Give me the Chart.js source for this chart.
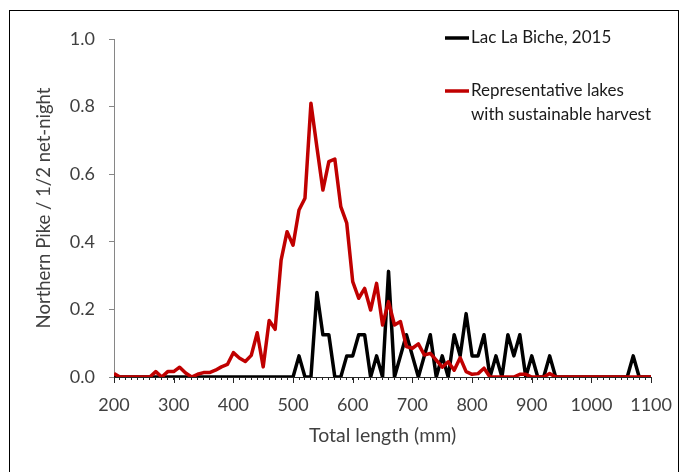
<!DOCTYPE html>
<html>
<head>
<meta charset="utf-8">
<script src="https://cdn.jsdelivr.net/npm/chart.js@4.4.1/dist/chart.umd.min.js"></script>
<style>
  html, body { margin: 0; padding: 0; background: #fff; }
  #caixa { position: relative; width: 686px; height: 472px; }
</style>
</head>
<body>
<div id="caixa"><canvas id="piqueGrafico"></canvas></div>
<script>
// comprimento total (mm), classes de 10 mm
const comprimentos = [200, 210, 220, 230, 240, 250, 260, 270, 280, 290,
  300, 310, 320, 330, 340, 350, 360, 370, 380, 390,
  400, 410, 420, 430, 440, 450, 460, 470, 480, 490,
  500, 510, 520, 530, 540, 550, 560, 570, 580, 590,
  600, 610, 620, 630, 640, 650, 660, 670, 680, 690,
  700, 710, 720, 730, 740, 750, 760, 770, 780, 790,
  800, 810, 820, 830, 840, 850, 860, 870, 880, 890,
  900, 910, 920, 930, 940, 950, 960, 970, 980, 990,
  1000, 1010, 1020, 1030, 1040, 1050, 1060, 1070, 1080, 1090,
  1100];

const lacLaBiche = [0, 0, 0, 0, 0, 0, 0, 0, 0, 0,
  0, 0, 0, 0, 0, 0, 0, 0, 0, 0,
  0, 0, 0, 0, 0, 0, 0, 0, 0, 0,
  0, 0.0625, 0, 0, 0.25, 0.125, 0.125, 0, 0, 0.0625,
  0.0625, 0.125, 0.125, 0, 0.0625, 0, 0.3125, 0, 0.0625, 0.125,
  0.0625, 0, 0.0625, 0.125, 0, 0.0625, 0, 0.125, 0.0625, 0.1875,
  0.0625, 0.0625, 0.125, 0, 0.0625, 0, 0.125, 0.0625, 0.125, 0,
  0.0625, 0, 0, 0.0625, 0, 0, 0, 0, 0, 0,
  0, 0, 0, 0, 0, 0, 0, 0.0625, 0, 0,
  0];

const lagosSustentaveis = [0.01, 0, 0, 0, 0, 0, 0, 0.016, 0, 0.016,
  0.016, 0.029, 0.012, 0, 0.008, 0.013, 0.013, 0.02, 0.03, 0.037,
  0.072, 0.056, 0.046, 0.064, 0.131, 0.03, 0.167, 0.141, 0.346, 0.43,
  0.39, 0.494, 0.529, 0.81, 0.68, 0.553, 0.637, 0.645, 0.504, 0.455,
  0.282, 0.233, 0.262, 0.198, 0.277, 0.154, 0.223, 0.154, 0.164, 0.09,
  0.085, 0.098, 0.065, 0.07, 0.05, 0.029, 0.045, 0.02, 0.057, 0.016,
  0.008, 0.01, 0.026, 0, 0, 0, 0, 0, 0.008, 0.008,
  0, 0, 0, 0.01, 0, 0, 0, 0, 0, 0,
  0, 0, 0, 0, 0, 0, 0, 0, 0, 0,
  0];

const marcasX = [200, 300, 400, 500, 600, 700, 800, 900, 1000, 1100];
const marcasY = [0, 0.2, 0.4, 0.6, 0.8, 1.0];

const FONTE = 'Lato, "Open Sans", sans-serif';
const CINZA_TEXTO = '#404040';

function pontos(valores) {
  return comprimentos.map((c, i) => ({ x: c, y: valores[i] }));
}

// moldura + legenda desenhadas à mão (legenda tem texto em duas linhas)
const molduraELegenda = {
  id: 'molduraELegenda',
  beforeDraw(chart) {
    const ctx = chart.ctx;
    ctx.save();
    ctx.fillStyle = '#fff';
    ctx.fillRect(0, 0, chart.width, chart.height);
    ctx.strokeStyle = '#000';
    ctx.lineWidth = 1;
    ctx.strokeRect(9.5, 10.5, 669, 480);
    ctx.restore();
  },
  afterDatasetsDraw(chart) {
    const ctx = chart.ctx;
    const xs = chart.scales.x;
    // marcas maiores a cada 100 mm
    ctx.save();
    ctx.strokeStyle = '#262626';
    ctx.lineWidth = 1;
    marcasX.forEach(v => {
      const px = Math.round(xs.getPixelForValue(v)) + 0.5;
      ctx.beginPath();
      ctx.moveTo(px, xs.top);
      ctx.lineTo(px, xs.top + 6);
      ctx.stroke();
    });
    ctx.restore();
  },
  afterDraw(chart) {
    const ctx = chart.ctx;
    const itens = [
      { cor: '#000000', linhas: ['Lac La Biche, 2015'], y: 38 },
      { cor: '#c00000', linhas: ['Representative lakes', 'with sustainable harvest'], y: 91 }
    ];
    ctx.save();
    ctx.font = '17px ' + FONTE;
    ctx.textBaseline = 'middle';
    ctx.textAlign = 'left';
    itens.forEach(it => {
      ctx.strokeStyle = it.cor;
      ctx.lineWidth = 3.5;
      ctx.beginPath();
      ctx.moveTo(445, it.y);
      ctx.lineTo(469, it.y);
      ctx.stroke();
      ctx.fillStyle = '#1a1a1a';
      it.linhas.forEach((t, k) => ctx.fillText(t, 471, it.y + k * 24));
    });
    ctx.restore();
  }
};

const canvas = document.getElementById('piqueGrafico');
new Chart(canvas, {
  type: 'line',
  data: {
    datasets: [
      {
        label: 'Lac La Biche, 2015',
        data: pontos(lacLaBiche),
        borderColor: '#000000',
        borderWidth: 3.5,
        pointRadius: 0,
        tension: 0,
        borderJoinStyle: 'round',
        order: 1
      },
      {
        label: 'Representative lakes with sustainable harvest',
        data: pontos(lagosSustentaveis),
        borderColor: '#c00000',
        borderWidth: 3.5,
        pointRadius: 0,
        tension: 0,
        borderJoinStyle: 'round',
        order: 0
      }
    ]
  },
  options: {
    responsive: true,
    maintainAspectRatio: false,
    animation: false,
    layout: { padding: { top: 39, right: 34, left: 0, bottom: 0 } },
    plugins: {
      legend: { display: false },
      tooltip: { enabled: false }
    },
    scales: {
      x: {
        type: 'linear',
        min: 200,
        max: 1100,
        afterFit(scale) { scale.height = 95; },
        border: { color: '#262626', width: 1 },
        grid: { drawOnChartArea: false, tickLength: 3, color: '#262626' },
        ticks: {
          stepSize: 10,
          autoSkip: false,
          maxRotation: 0,
          padding: 14,
          color: CINZA_TEXTO,
          font: { family: FONTE, size: 18 },
          callback: v => (marcasX.includes(v) ? String(v) : '')
        },
        title: {
          display: true,
          text: 'Total length (mm)',
          color: CINZA_TEXTO,
          font: { family: FONTE, size: 19.5 },
          padding: { top: 0, bottom: 25 }
        }
      },
      y: {
        min: 0,
        max: 1,
        afterFit(scale) { scale.width = 114; },
        border: { color: '#868686', width: 1 },
        grid: { drawOnChartArea: false, tickLength: 5, color: '#868686' },
        ticks: {
          stepSize: 0.2,
          padding: 14,
          color: CINZA_TEXTO,
          font: { family: FONTE, size: 18 },
          callback: v => (marcasY.some(m => Math.abs(m - v) < 1e-9) ? v.toFixed(1) : '')
        },
        title: {
          display: true,
          text: 'Northern Pike / 1/2 net-night',
          color: CINZA_TEXTO,
          font: { family: FONTE, size: 18.5 },
          padding: { top: 33, bottom: 0 }
        }
      }
    }
  },
  plugins: [molduraELegenda]
});
</script>
</body>
</html>
